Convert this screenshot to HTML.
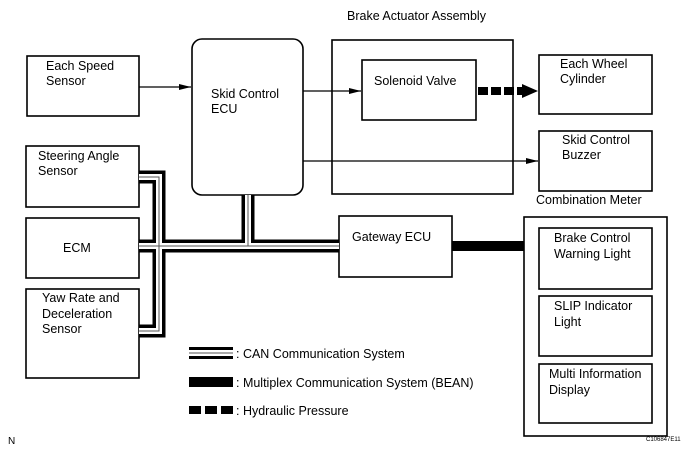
<!DOCTYPE html>
<html><head><meta charset="utf-8"><style>
html,body{margin:0;padding:0;background:#fff;}
svg{display:block;font-family:"Liberation Sans",Arial,sans-serif;}
text{font-size:12.5px;fill:#000;}
</style></head><body>
<svg width="690" height="454" viewBox="0 0 690 454" xmlns="http://www.w3.org/2000/svg">
<defs>
<marker id="ah" markerWidth="12" markerHeight="8" refX="12" refY="4" orient="auto" markerUnits="userSpaceOnUse">
<path d="M0,1 L12,4 L0,7 Z" fill="#000"/></marker>
</defs>
<g fill="none" stroke="#000" stroke-width="1.6">
<rect x="27" y="56" width="112" height="60"/>
<rect x="192" y="39" width="111" height="156" rx="10"/>
<rect x="332" y="40" width="181" height="154"/>
<rect x="362" y="60" width="114" height="60"/>
<rect x="539" y="55" width="113" height="59"/>
<rect x="539" y="131" width="113" height="60"/>
<rect x="26" y="146" width="113" height="61"/>
<rect x="26" y="218" width="113" height="60"/>
<rect x="26" y="289" width="113" height="89"/>
<rect x="339" y="216" width="113" height="61"/>
<rect x="524" y="217" width="143" height="219"/>
<rect x="539" y="228" width="113" height="61"/>
<rect x="539" y="296" width="113" height="60"/>
<rect x="539" y="364" width="113" height="59"/>
</g>
<g stroke="#000" stroke-width="1.2" fill="none">
<line x1="139" y1="87" x2="191" y2="87" marker-end="url(#ah)"/>
<line x1="303" y1="91" x2="361" y2="91" marker-end="url(#ah)"/>
<line x1="303" y1="161" x2="538" y2="161" marker-end="url(#ah)"/>
</g>
<!-- hydraulic -->
<g fill="#000">
<rect x="478" y="87" width="10" height="8"/><rect x="491" y="87" width="10" height="8"/><rect x="504" y="87" width="10" height="8"/><rect x="517" y="87" width="6" height="8"/>
<path d="M522,84 L538,91 L522,98 Z"/>
<rect x="452" y="241" width="72" height="10"/>
</g>
<!-- CAN bus -->
<g fill="none" stroke-linejoin="miter">
<g stroke="#000" stroke-width="13">
<path d="M139,177 H159 V331 H139"/>
<path d="M139,246 H339"/>
<path d="M248,195 V246"/>
</g>
<g stroke="#fff" stroke-width="6">
<path d="M139,177 H159 V331 H139"/>
<path d="M139,246 H339"/>
<path d="M248,195 V246"/>
</g>
<g stroke="#555" stroke-width="1">
<path d="M139,177 H159 V331 H139"/>
<path d="M139,246 H339"/>
<path d="M248,195 V246"/>
</g>
</g>
<!-- legend -->
<rect x="189" y="347" width="44" height="12" fill="#000"/>
<rect x="189" y="350" width="44" height="6" fill="#fff"/>
<rect x="189" y="352.5" width="44" height="1" fill="#555"/>
<rect x="189" y="377" width="44" height="10" fill="#000"/>
<rect x="189" y="406" width="12" height="8" fill="#000"/><rect x="205" y="406" width="12" height="8" fill="#000"/><rect x="221" y="406" width="12" height="8" fill="#000"/>
<text x="236" y="358">: CAN Communication System</text>
<text x="236" y="387">: Multiplex Communication System (BEAN)</text>
<text x="236" y="415">: Hydraulic Pressure</text>
<!-- labels -->
<text x="347" y="20">Brake Actuator Assembly</text>
<text x="46" y="70">Each Speed</text><text x="46" y="85">Sensor</text>
<text x="211" y="98">Skid Control</text><text x="211" y="113">ECU</text>
<text x="374" y="85">Solenoid Valve</text>
<text x="560" y="68">Each Wheel</text><text x="560" y="83">Cylinder</text>
<text x="562" y="144">Skid Control</text><text x="562" y="159">Buzzer</text>
<text x="536" y="204">Combination Meter</text>
<text x="38" y="160">Steering Angle</text><text x="38" y="175">Sensor</text>
<text x="63" y="252">ECM</text>
<text x="42" y="302">Yaw Rate and</text><text x="42" y="318">Deceleration</text><text x="42" y="333">Sensor</text>
<text x="352" y="241">Gateway ECU</text>
<text x="554" y="242">Brake Control</text><text x="554" y="258">Warning Light</text>
<text x="554" y="310">SLIP Indicator</text><text x="554" y="326">Light</text>
<text x="549" y="378">Multi Information</text><text x="549" y="394">Display</text>
<text x="8" y="444" style="font-size:10px">N</text>
<text x="646" y="441" style="font-size:6px">C106847E11</text>
</svg>
</body></html>
